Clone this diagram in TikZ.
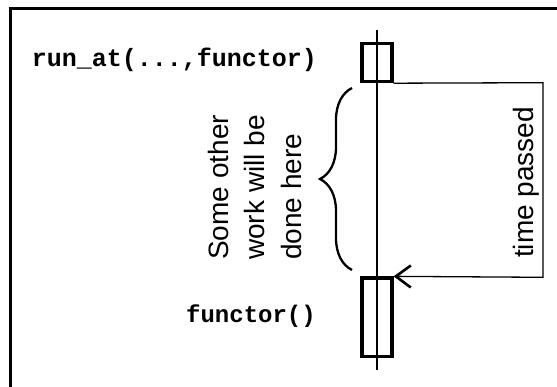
\documentclass[tikz,border=0pt]{standalone}
\usepackage{fontspec}
\setmainfont{Liberation Sans}
\setmonofont{Liberation Mono}
\usetikzlibrary{arrows.meta, decorations.pathreplacing}

\begin{document}
\begin{tikzpicture}[x = 1pt, y = -1pt,
    actbox/.style = {draw, line width = 3.2pt, minimum width = 30pt, inner sep = 0pt},
    thinline/.style = {line width = 1.3pt},
    monolabel/.style = {inner sep = 0pt, anchor = base east},
    sidelabel/.style = {font = \fontsize{28}{36.5}\selectfont, rotate = 90, inner sep = 0pt}]

    \useasboundingbox (0,0) rectangle (557,387);
    \clip (0,0) rectangle (557,387);
    \draw [line width = 2.5pt] (10.3,8.7) rectangle (620,440);

    % life line and the two activation boxes
    \coordinate (lifetop) at (377,30);
    \coordinate (lifebot) at (377,370);
    \node [actbox, minimum height = 37.8pt] (runbox) at (377,62.7) {};
    \node [actbox, minimum height = 78.7pt] (funcbox) at (377,317.3) {};
    \draw [thinline] (lifetop) -- (lifebot);

    \node [monolabel, font = \fontsize{25}{30}\selectfont\ttfamily\bfseries] (runlabel) at (317,67) {run\_at(...,functor)};
    \node [monolabel, font = \fontsize{24}{29}\selectfont\ttfamily\bfseries] (funclabel) at (316,323) {functor()};

    % time passed loop
    \coordinate (bendtop) at (543,82.7);
    \coordinate (bendbot) at (543,277.3);
    \draw [thinline, -{Straight Barb[length = 15pt, width = 22pt, line width = 2.6pt]}] (runbox.south east) -- (bendtop) -- (bendbot) -- (funcbox.north east);
    \node [sidelabel, anchor = base west] (timelabel) at (533,258) {time passed};

    % brace with the other work
    \coordinate (bracebot) at (352,270);
    \coordinate (bracetop) at (352,88);
    \draw [line width = 2.3pt, decorate, decoration = {brace, amplitude = 32pt}] (bracebot) -- (bracetop);
    \node [sidelabel, align = left, anchor = north west] (worklabel) at (207.6,260) {Some other\\work will be\\done here};
    \end{tikzpicture}
\end{document}
